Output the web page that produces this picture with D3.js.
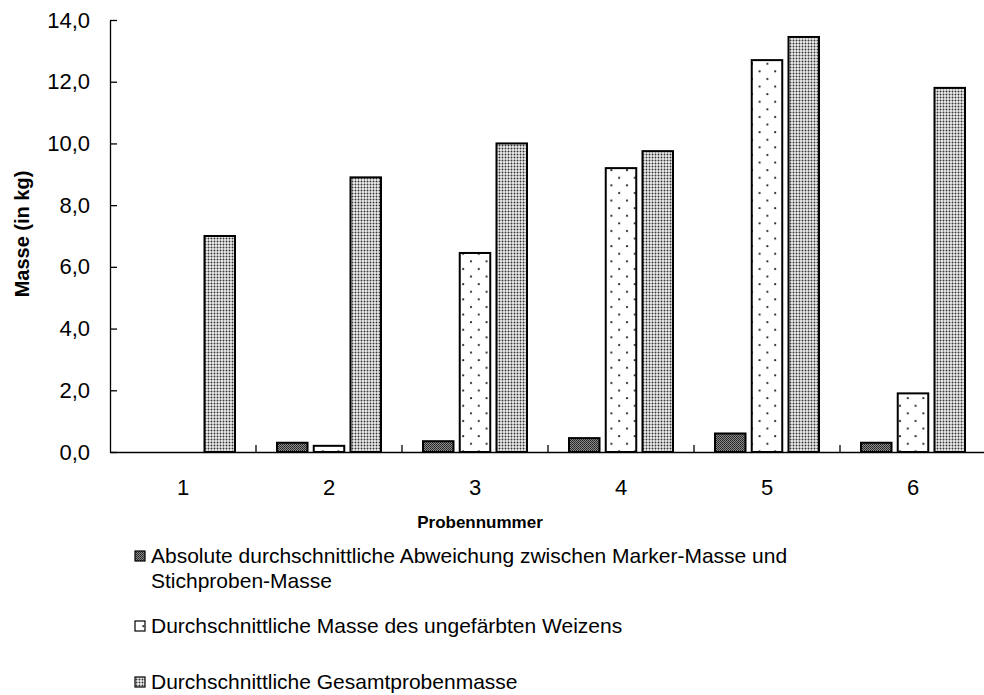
<!DOCTYPE html>
<html>
<head>
<meta charset="utf-8">
<script src="https://cdn.jsdelivr.net/npm/d3@7"></script>
<style>
  body { margin: 0; background: #fff; }
  text { font-family: "Liberation Sans", Arial, sans-serif; fill: #000; }
</style>
</head>
<body>
<div id="chart"></div>
<script>
var categories = ["1", "2", "3", "4", "5", "6"];
var seriesNames = [
    "Absolute durchschnittliche Abweichung zwischen Marker-Masse und Stichproben-Masse",
    "Durchschnittliche Masse des ungefärbten Weizens",
    "Durchschnittliche Gesamtprobenmasse"
];
var abweichung = [0, 0.3, 0.35, 0.45, 0.6, 0.3];
var weizen = [0, 0.2, 6.45, 9.2, 12.7, 1.9];
var gesamt = [7.0, 8.9, 10.0, 9.75, 13.45, 11.8];
var yTicks = [0, 2, 4, 6, 8, 10, 12, 14];
var legendLines = [
    ["Absolute durchschnittliche Abweichung zwischen Marker-Masse und", "Stichproben-Masse"],
    ["Durchschnittliche Masse des ungefärbten Weizens"],
    ["Durchschnittliche Gesamtprobenmasse"]
];

var chartWidth = 984;
var chartHeight = 695;
var plotLeft = 110, plotRight = 986, plotTop = 20, plotBottom = 452;

var svg = d3.select("#chart").append("svg")
    .attr("width", chartWidth)
    .attr("height", chartHeight);

// fill patterns like the old excel ones
var defs = svg.append("defs");

var p1 = defs.append("pattern").attr("id", "pat0")
    .attr("patternUnits", "userSpaceOnUse").attr("width", 2).attr("height", 2);
p1.append("rect").attr("width", 2).attr("height", 2).attr("fill", "#8a8a8a");
p1.append("rect").attr("width", 1).attr("height", 1).attr("fill", "#222");
p1.append("rect").attr("x", 1).attr("y", 1).attr("width", 1).attr("height", 1).attr("fill", "#333");

var p2 = defs.append("pattern").attr("id", "pat1")
    .attr("patternUnits", "userSpaceOnUse").attr("width", 15.6).attr("height", 15.2);
p2.append("rect").attr("width", 15.6).attr("height", 15.2).attr("fill", "#fff");
p2.append("circle").attr("cx", 3).attr("cy", 3).attr("r", 1.1).attr("fill", "#222");
p2.append("circle").attr("cx", 10.8).attr("cy", 10.6).attr("r", 1.1).attr("fill", "#222");

var p3 = defs.append("pattern").attr("id", "pat2")
    .attr("patternUnits", "userSpaceOnUse").attr("width", 3).attr("height", 3);
p3.append("rect").attr("width", 3).attr("height", 3).attr("fill", "#eee");
p3.append("circle").attr("cx", 1.5).attr("cy", 1.5).attr("r", 0.95).attr("fill", "#333");

var x0 = d3.scaleBand()
    .domain(categories)
    .range([plotLeft, plotRight])
    .padding(0);

var groupInner = 104;
var x1 = d3.scaleBand()
    .domain([0, 1, 2])
    .range([(x0.bandwidth() - groupInner) / 2, (x0.bandwidth() + groupInner) / 2])
    .paddingInner(0.17)
    .paddingOuter(0);

var y = d3.scaleLinear()
    .domain([0, 14])
    .range([plotBottom, plotTop]);

var rows = [];
categories.forEach(function(c, i) {
    [abweichung, weizen, gesamt].forEach(function(s, k) {
        rows.push({ cat: c, series: k, value: s[i] });
    });
});

// Bars
svg.append("g").selectAll(".bar")
    .data(rows.filter(d => d.value > 0))
    .enter()
    .append("rect")
    .attr("class", "bar")
    .attr("x", d => x0(d.cat) + x1(d.series))
    .attr("y", d => y(d.value))
    .attr("width", x1.bandwidth())
    .attr("height", d => plotBottom - y(d.value))
    .attr("fill", d => "url(#pat" + d.series + ")")
    .attr("stroke", "#000")
    .attr("stroke-width", 2);

// Y axis
var yAxis = svg.append("g")
    .attr("class", "y-axis")
    .attr("transform", "translate(" + plotLeft + ",0)")
    .call(d3.axisLeft(y)
        .tickValues(yTicks)
        .tickSizeInner(-7)
        .tickSizeOuter(0)
        .tickPadding(20)
        .tickFormat(d => d3.format(".1f")(d).replace(".", ",")));
yAxis.select(".domain").attr("stroke", "#000").attr("stroke-width", 1.3);
yAxis.selectAll(".tick line").attr("stroke", "#000").attr("stroke-width", 1.3);
yAxis.selectAll("text")
    .style("font-size", "22px")
    .attr("font-family", null);

// X axis
var xAxis = svg.append("g")
    .attr("class", "x-axis")
    .attr("transform", "translate(0," + plotBottom + ")")
    .call(d3.axisBottom(x0).tickSize(0).tickPadding(27));
xAxis.select(".domain").attr("stroke", "#000").attr("stroke-width", 1.3);
xAxis.selectAll("text")
    .style("font-size", "22px")
    .attr("font-family", null);

// category separators, pointing up
svg.append("g").selectAll(".sep")
    .data(categories.slice(1).concat(["end"]))
    .enter()
    .append("line")
    .attr("x1", (d, i) => plotLeft + (i + 1) * x0.step())
    .attr("x2", (d, i) => plotLeft + (i + 1) * x0.step())
    .attr("y1", plotBottom)
    .attr("y2", plotBottom - 7)
    .attr("stroke", "#000")
    .attr("stroke-width", 1.3);

// Axis titles
svg.append("text")
    .attr("x", 480)
    .attr("y", 528)
    .attr("text-anchor", "middle")
    .style("font-size", "17px")
    .style("font-weight", "bold")
    .text("Probennummer");

svg.append("text")
    .attr("transform", "translate(29,234) rotate(-90)")
    .attr("text-anchor", "middle")
    .style("font-size", "20px")
    .style("font-weight", "bold")
    .text("Masse (in kg)");

// Legend
var legendY = [563, 633, 689];
var legend = svg.append("g").attr("class", "legend");
legendLines.forEach(function(lines, k) {
    legend.append("rect")
        .attr("x", 135)
        .attr("y", legendY[k] - 12)
        .attr("width", 10)
        .attr("height", 10)
        .attr("fill", "url(#pat" + k + ")")
        .attr("stroke", "#000")
        .attr("stroke-width", 1.2);
    lines.forEach(function(t, j) {
        legend.append("text")
            .attr("x", 151)
            .attr("y", legendY[k] + j * 25)
            .style("font-size", "21px")
            .text(t);
    });
});
</script>
</body>
</html>
